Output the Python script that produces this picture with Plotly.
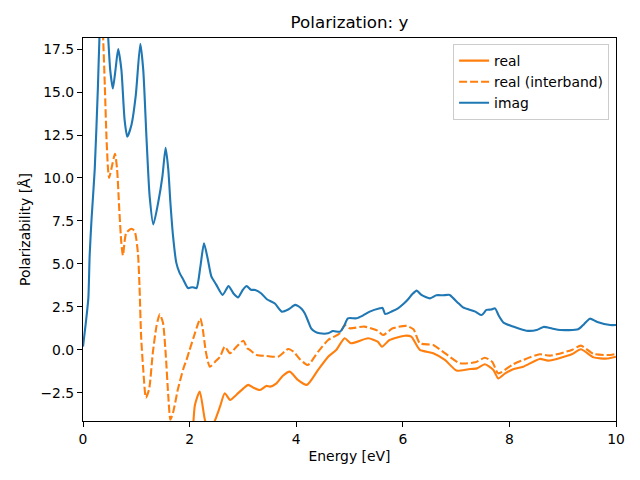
import plotly.graph_objects as go

# ---- data ----
energy_imag = [0.0, 0.05, 0.1, 0.125, 0.16, 0.22, 0.28, 0.31, 0.35, 0.39, 0.43, 0.47, 0.51, 0.56, 0.61, 0.66,
               0.72, 0.78, 0.83, 0.91, 0.99, 1.075, 1.13, 1.19, 1.25, 1.32, 1.41, 1.49, 1.55, 1.6, 1.64, 1.69,
               1.75, 1.81, 1.88, 1.97, 2.05, 2.13, 2.2, 2.27, 2.34, 2.41, 2.5, 2.62, 2.73, 2.82, 2.91, 3.0,
               3.07, 3.15, 3.23, 3.34, 3.45, 3.6, 3.73, 3.85, 3.98, 4.03, 4.1, 4.16, 4.22, 4.28, 4.36, 4.44,
               4.6, 4.69, 4.82, 4.9, 4.97, 5.13, 5.25, 5.38, 5.57, 5.62, 5.67, 5.8, 5.91, 6.02, 6.1, 6.18,
               6.26, 6.35, 6.51, 6.63, 6.75, 6.88, 6.95, 7.05, 7.13, 7.36, 7.48, 7.57, 7.66, 7.73, 7.8, 7.89,
               8.07, 8.32, 8.51, 8.64, 8.8, 8.95, 9.29, 9.4, 9.51, 9.65, 9.89, 10.0]
imag = [0.2, 1.5, 3.0, 5.5, 7.6, 10.5, 15.3, 18.3, 20.5, 21.0, 20.3, 18.3, 16.3, 15.2, 16.3, 17.5,
        16.3, 13.4, 12.4, 13.1, 14.8, 17.8, 16.3, 12.4, 8.95, 7.3, 8.56, 10.1, 11.76, 10.5, 8.56, 6.6,
        5.08, 4.5, 4.1, 3.6, 3.65, 3.6, 4.8, 6.2, 5.3, 4.26, 3.8, 3.2, 3.72, 3.3, 3.06, 3.5,
        3.72, 3.5, 3.49, 3.3, 2.95, 2.7, 2.23, 2.35, 2.62, 2.56, 2.4, 2.13, 1.7, 1.26, 1.05, 0.97,
        0.97, 1.1, 1.06, 1.4, 1.84, 1.84, 2.0, 2.23, 2.42, 2.45, 2.09, 2.25, 2.42, 2.7, 2.95, 3.25,
        3.45, 3.2, 3.0, 3.18, 3.18, 3.2, 3.0, 2.7, 2.48, 2.23, 2.03, 2.33, 2.35, 2.42, 2.0, 1.59,
        1.36, 1.12, 1.16, 1.34, 1.25, 1.16, 1.2, 1.5, 1.82, 1.63, 1.45, 1.45]

energy_inter = [0.0, 0.2, 0.3, 0.375, 0.41, 0.44, 0.47, 0.49, 0.53, 0.6, 0.64, 0.68, 0.72, 0.75, 0.81, 0.91,
                0.97, 1.03, 1.06, 1.09, 1.13, 1.18, 1.24, 1.31, 1.38, 1.44, 1.5, 1.55, 1.6, 1.64, 1.69, 1.78,
                1.88, 1.95, 2.0, 2.1, 2.2, 2.24, 2.31, 2.38, 2.48, 2.57, 2.66, 2.76, 2.88, 3.01, 3.08, 3.13,
                3.26, 3.44, 3.66, 3.78, 3.85, 3.95, 4.07, 4.22, 4.41, 4.6, 4.82, 4.91, 5.0, 5.28, 5.53, 5.63,
                5.81, 6.07, 6.2, 6.32, 6.57, 6.79, 7.07, 7.36, 7.54, 7.68, 7.79, 8.07, 8.26, 8.57, 8.76, 9.17,
                9.34, 9.58, 9.89, 10.0]
real_inter = [22.0, 24.0, 22.0, 18.3, 15.3, 12.4, 10.5, 10.0, 10.5, 11.4, 10.5, 8.2, 6.2, 5.5, 6.8, 7.05,
              6.9, 5.66, 3.72, 0.8, -1.12, -2.77, -2.29, -0.16, 1.4, 2.07, 1.59, -0.16, -2.67, -4.05, -3.64, -2.29,
              -1.12, -0.5, 0.0, 0.97, 1.84, 1.36, -0.19, -0.97, -0.68, -0.39, 0.19, -0.19, 0.19, 0.54, 0.1, 0.0,
              -0.29, -0.35, -0.39, -0.1, 0.06, -0.1, -0.54, -0.87, -0.1, 0.58, 0.97, 1.45, 1.26, 1.36, 1.12, 0.87,
              1.26, 1.4, 1.2, 0.39, 0.29, -0.19, -0.77, -0.72, -0.45, -0.7, -1.36, -0.83, -0.58, -0.25, -0.33, 0.0,
              0.25, -0.23, -0.29, -0.23]

energy_real = [0.0, 0.5, 1.0, 1.5, 2.0, 2.1, 2.19, 2.29, 2.38, 2.48, 2.57, 2.66, 2.76, 2.88, 3.01, 3.1,
               3.2, 3.32, 3.44, 3.51, 3.63, 3.75, 3.88, 4.03, 4.2, 4.41, 4.6, 4.75, 4.91, 5.03, 5.35, 5.53,
               5.61, 5.75, 6.04, 6.16, 6.32, 6.57, 6.79, 7.01, 7.23, 7.39, 7.54, 7.7, 7.79, 7.92, 8.07, 8.26,
               8.57, 8.73, 9.17, 9.34, 9.58, 9.83, 10.0]
real = [-60.0, -40.0, -15.0, -8.0, -6.0, -3.2, -2.42, -4.1, -4.8, -4.07, -3.3, -2.52, -2.9, -2.6, -2.23, -2.03,
        -2.2, -2.33, -2.09, -2.13, -1.94, -1.5, -1.26, -1.74, -2.03, -1.16, -0.39, 0.0, 0.68, 0.39, 0.68, 0.48,
        0.19, 0.58, 0.83, 0.77, 0.0, -0.19, -0.58, -1.2, -1.12, -1.07, -0.83, -1.16, -1.65, -1.36, -1.12, -0.97,
        -0.52, -0.62, -0.25, 0.04, -0.43, -0.5, -0.39]

y_ticks = [-2.5, 0.0, 2.5, 5.0, 7.5, 10.0, 12.5, 15.0, 17.5]
x_ticks = [0, 2, 4, 6, 8, 10]

ORANGE = "#ff7f0e"
BLUE = "#1f77b4"
FONT = "DejaVu Sans"

fig = go.Figure()
fig.add_trace(go.Scatter(x=energy_real, y=real, mode="lines", name="real",
                         line=dict(color=ORANGE, width=2.1, shape="spline", smoothing=0.6)))
fig.add_trace(go.Scatter(x=energy_inter, y=real_inter, mode="lines", name="real (interband)",
                         line=dict(color=ORANGE, width=2.1, dash="8px,3px", shape="spline", smoothing=0.6)))
fig.add_trace(go.Scatter(x=energy_imag, y=imag, mode="lines", name="imag",
                         line=dict(color=BLUE, width=2.1, shape="spline", smoothing=0.6)))

axis_common = dict(showgrid=False, zeroline=False, showline=True, linecolor="black", linewidth=1.1,
                   mirror=True, ticks="outside", ticklen=5, tickwidth=1.1, tickcolor="black",
                   tickfont=dict(family=FONT, size=13.9, color="black"))

fig.update_xaxes(range=[0, 10], tickvals=x_ticks, ticktext=[str(v) for v in x_ticks],
                 title=dict(text="Energy [eV]", font=dict(family=FONT, size=13.9, color="black"), standoff=5),
                 **axis_common)
fig.update_yaxes(range=[-4.13, 18.14], tickvals=y_ticks, tickformat=".1f",
                 title=dict(text="Polarizability [Å]", font=dict(family=FONT, size=13.9, color="black"), standoff=6),
                 **axis_common)

fig.update_layout(
    width=640, height=480,
    margin=dict(l=83, r=24, t=38, b=59, autoexpand=False),
    paper_bgcolor="white", plot_bgcolor="white",
    font=dict(family=FONT, size=13.9, color="black"),
    title=dict(text="Polarization: y", x=0.5, xref="paper", xanchor="center",
               y=1 - 22 / 480, yref="container", yanchor="middle",
               font=dict(family=FONT, size=16.7, color="black")),
    legend=dict(x=0.987, y=0.984, xanchor="right", yanchor="top",
                bgcolor="rgba(255,255,255,0.8)", bordercolor="#cccccc", borderwidth=1,
                font=dict(family=FONT, size=13.9, color="black"),
                itemwidth=30, tracegroupgap=0),
    showlegend=True,
)

fig.write_html("out.html", config={"displayModeBar": False},
               post_script="document.body.style.margin='0px';")
